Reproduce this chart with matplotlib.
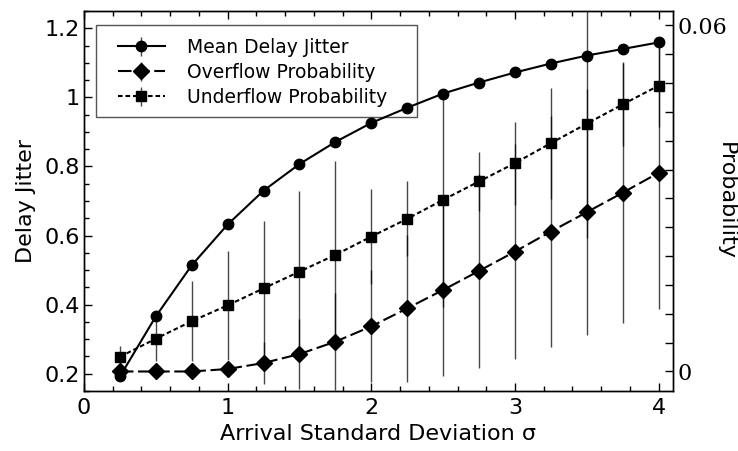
import matplotlib
matplotlib.use("Agg")
import matplotlib.pyplot as plt
from matplotlib.ticker import MultipleLocator, FixedLocator, FuncFormatter
from matplotlib.patches import Rectangle

# ---- data ----
sigma = [0.25, 0.5, 0.75, 1.0, 1.25, 1.5, 1.75, 2.0, 2.25, 2.5, 2.75, 3.0, 3.25, 3.5, 3.75, 4.0]
mean_jitter = [0.192, 0.366, 0.514, 0.632, 0.730, 0.807, 0.871, 0.926, 0.970, 1.011,
               1.043, 1.072, 1.098, 1.121, 1.140, 1.159]
mean_jitter_err = [0.0] * 16
overflow_prob = [0.0, 0.0, 0.0, 0.00043, 0.00147, 0.00302, 0.00517, 0.00782, 0.01095,
                 0.01414, 0.01744, 0.02079, 0.02427, 0.02762, 0.03100, 0.03445]
overflow_err = [0.0, 0.0, 0.0, 0.0012, 0.0036, 0.0060, 0.0084, 0.0097, 0.0128, 0.0150,
                0.0168, 0.0187, 0.0201, 0.0213, 0.0226, 0.0236]
underflow_prob = [0.00255, 0.00568, 0.00872, 0.01147, 0.01441, 0.01732, 0.02022, 0.02339,
                  0.02647, 0.02977, 0.03295, 0.03613, 0.03959, 0.04297, 0.04631, 0.04956]
underflow_err = [0.0018, 0.0039, 0.0069, 0.0094, 0.0117, 0.0139, 0.0162, 0.0083, 0.0065,
                 0.0186, 0.0051, 0.0072, 0.0096, 0.0198, 0.0072, 0.0072]
labels = ["Mean Delay Jitter", "Overflow Probability", "Underflow Probability"]
x_label = "Arrival Standard Deviation σ"
y_label = "Delay Jitter"
y2_label = "Probability"

plt.rcParams['font.family'] = ['DejaVu Sans']

fig = plt.figure(figsize=(7.38, 4.51), dpi=100)
ax = fig.add_axes([84/738, 60/451, 589/738, 380/451])
ax2 = ax.twinx()

ecol = (0, 0, 0, 0.72)
h1 = ax.errorbar(sigma, mean_jitter, yerr=mean_jitter_err, color='black', lw=1.5,
                 marker='o', ms=7.5, ecolor=ecol, elinewidth=1.0, capsize=0,
                 label=labels[0], zorder=3)
h2 = ax2.errorbar(sigma, overflow_prob, yerr=overflow_err, color='black', lw=1.5,
                  ls=(0, (6.5, 2.2)), marker='D', ms=8, ecolor=ecol, elinewidth=1.0,
                  capsize=0, label=labels[1])
h3 = ax2.errorbar(sigma, underflow_prob, yerr=underflow_err, color='black', lw=1.5,
                  ls=(0, (2.2, 1.4)), marker='s', ms=7.5, ecolor=ecol, elinewidth=1.0,
                  capsize=0, label=labels[2])

ax.set_xlim(0, 4.1)
ax.set_ylim(0.15, 1.25)
y0, k = 0.2065, 0.0599
ax2.set_ylim((0.15 - y0) * k, (1.25 - y0) * k)

fmt = FuncFormatter(lambda v, p: "%g" % round(v, 6))
ax.xaxis.set_major_locator(MultipleLocator(1))
ax.xaxis.set_minor_locator(MultipleLocator(0.2))
ax.yaxis.set_major_locator(MultipleLocator(0.2))
ax.yaxis.set_minor_locator(MultipleLocator(0.05))
ax.xaxis.set_major_formatter(fmt)
ax.yaxis.set_major_formatter(fmt)
ax2.yaxis.set_major_locator(FixedLocator([0, 0.06]))
ax2.yaxis.set_minor_locator(MultipleLocator(0.005))
ax2.yaxis.set_major_formatter(fmt)

ax.tick_params(which='both', direction='in', top=True, right=False, width=1)
ax.tick_params(which='major', length=6, labelsize=16)
ax.tick_params(which='minor', length=3.8)
ax.tick_params(axis='x', pad=5)
ax.tick_params(axis='y', pad=3)
ax2.tick_params(which='both', direction='in', length=6, width=1, labelsize=16, pad=3.5)
for t in ax2.get_yticklabels():
    t.set_family('DejaVu Serif')

for sp in list(ax.spines.values()) + list(ax2.spines.values()):
    sp.set_linewidth(1.0)

ax.set_xlabel(x_label, fontsize=16, labelpad=4)
ax.set_ylabel(y_label, fontsize=16, labelpad=6)
ax2.set_ylabel(y2_label, fontsize=16, rotation=270)
ax2.yaxis.set_label_coords(1.106, 0.5)

# legend frame and entries
frame = Rectangle((12/589, 274/380), 321/589, 92/380, transform=ax.transAxes,
                  facecolor='white', edgecolor='#555555', lw=1.0, zorder=1)
ax.add_patch(frame)
leg = ax.legend([h1, h2, h3], labels, loc='upper left', frameon=False,
                bbox_to_anchor=(34/589, 1 - 27/380), borderaxespad=0, borderpad=0,
                fontsize=13.5, handlelength=2.5, handletextpad=1.2, labelspacing=0.32)
leg.set_zorder(5)

fig.savefig("out.png", dpi=100)
